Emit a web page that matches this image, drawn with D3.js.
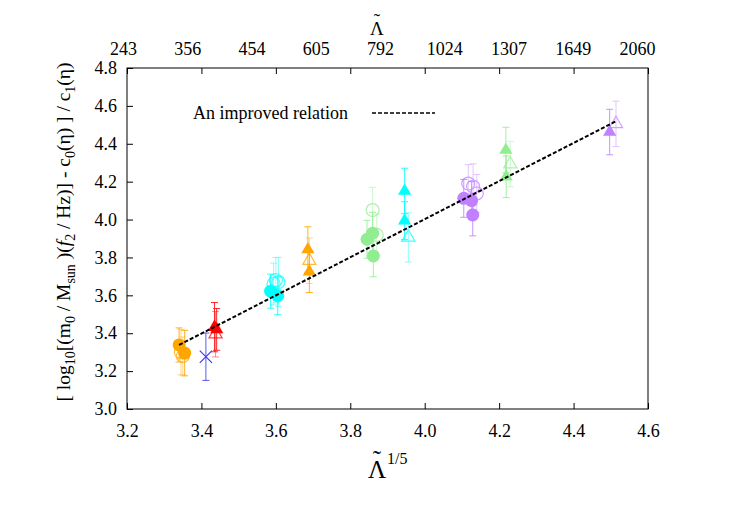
<!DOCTYPE html>
<html>
<head>
<meta charset="utf-8">
<style>
  body { margin: 0; background: #fff; }
  svg text { font-family: "Liberation Serif", "DejaVu Serif", serif; fill: #000; }
  .axis path { display: none; }
  .axis line { stroke: #000; }
</style>
</head>
<body>
<svg width="747" height="528"></svg>
<script src="https://cdn.jsdelivr.net/npm/d3@7"></script>
<script>
// points are [x, y, error]
var orangeCircFilled = [[3.340, 3.338, 0.09], [3.355, 3.295, 0.12]];
var orangeCircOpen   = [[3.350, 3.280, 0.10], [3.345, 3.300, 0.12]];
var blueCross        = [[3.412, 3.276, 0.125]];
var redTriFilled     = [[3.435, 3.432, 0.13], [3.441, 3.420, 0.11]];
var redTriOpen       = [[3.438, 3.395, 0.12]];
var cyanCircFilled   = [[3.586, 3.622, 0.09], [3.605, 3.598, 0.10]];
var cyanCircOpen     = [[3.600, 3.680, 0.12], [3.594, 3.660, 0.11], [3.607, 3.670, 0.13]];
var orangeTriFilled  = [[3.686, 3.842, 0.12], [3.690, 3.725, 0.11]];
var orangeTriOpen    = [[3.690, 3.783, 0.12]];
var greenCircFilled  = [[3.845, 3.896, 0.10], [3.860, 3.928, 0.11], [3.862, 3.808, 0.11]];
var greenCircOpen    = [[3.860, 4.050, 0.12], [3.871, 3.919, 0.11]];
var cyanTriFilled    = [[3.946, 4.151, 0.12], [3.946, 3.994, 0.10]];
var cyanTriOpen      = [[3.956, 3.906, 0.13]];
var purpleCircFilled = [[4.105, 4.112, 0.10], [4.126, 4.100, 0.10], [4.129, 4.024, 0.11]];
var purpleCircOpen   = [[4.117, 4.190, 0.10], [4.130, 4.174, 0.12], [4.140, 4.138, 0.10]];
var greenTriFilled   = [[4.218, 4.367, 0.12], [4.219, 4.226, 0.11]];
var greenTriOpen     = [[4.230, 4.293, 0.12]];
var purpleTriFilled  = [[4.497, 4.462, 0.12]];
var purpleTriOpen    = [[4.514, 4.505, 0.12]];

var fitLine = [[3.340, 3.338], [4.512, 4.517]];

var xTicks = [3.2, 3.4, 3.6, 3.8, 4.0, 4.2, 4.4, 4.6];
var yTicks = [3.0, 3.2, 3.4, 3.6, 3.8, 4.0, 4.2, 4.4, 4.6, 4.8];
var topLabels = ["243", "356", "454", "605", "792", "1024", "1307", "1649", "2060"];

var plotL = 127, plotR = 648, plotT = 68, plotB = 409;

var x = d3.scaleLinear().domain([3.2, 4.6]).range([plotL, plotR]);
var y = d3.scaleLinear().domain([3.0, 4.8]).range([plotB, plotT]);
var xTop = d3.scalePoint().domain(topLabels).range([123, 637]);

var svg = d3.select("svg");

// open markers first, filled ones on top
var groups = [
  {pts: orangeCircOpen, color: "#ffa500", shape: "circle", filled: false},
  {pts: redTriOpen, color: "#ff0000", shape: "tri", filled: false},
  {pts: cyanCircOpen, color: "#00ffff", shape: "circle", filled: false},
  {pts: orangeTriOpen, color: "#ffa500", shape: "tri", filled: false},
  {pts: greenCircOpen, color: "#90ee90", shape: "circle", filled: false},
  {pts: cyanTriOpen, color: "#00ffff", shape: "tri", filled: false},
  {pts: purpleCircOpen, color: "#c080ff", shape: "circle", filled: false},
  {pts: greenTriOpen, color: "#90ee90", shape: "tri", filled: false},
  {pts: purpleTriOpen, color: "#c080ff", shape: "tri", filled: false},
  {pts: blueCross, color: "#3c3cf0", shape: "cross", filled: true},
  {pts: orangeCircFilled, color: "#ffa500", shape: "circle", filled: true},
  {pts: redTriFilled, color: "#ff0000", shape: "tri", filled: true},
  {pts: cyanCircFilled, color: "#00ffff", shape: "circle", filled: true},
  {pts: orangeTriFilled, color: "#ffa500", shape: "tri", filled: true},
  {pts: greenCircFilled, color: "#90ee90", shape: "circle", filled: true},
  {pts: cyanTriFilled, color: "#00ffff", shape: "tri", filled: true},
  {pts: purpleCircFilled, color: "#c080ff", shape: "circle", filled: true},
  {pts: greenTriFilled, color: "#90ee90", shape: "tri", filled: true},
  {pts: purpleTriFilled, color: "#c080ff", shape: "tri", filled: true}
];

// axes
svg.append("g").attr("class", "axis")
  .attr("transform", "translate(0," + plotB + ")")
  .call(d3.axisBottom(x).tickValues(xTicks).tickSize(-6).tickPadding(15).tickFormat(d3.format(".1f")))
  .selectAll("text").style("font-size", "18px");

svg.append("g").attr("class", "axis")
  .attr("transform", "translate(" + plotL + ",0)")
  .call(d3.axisLeft(y).tickValues(yTicks).tickSize(-6).tickPadding(10).tickFormat(d3.format(".1f")))
  .selectAll("text").style("font-size", "18px");

svg.append("g").attr("class", "axis")
  .attr("transform", "translate(0," + plotT + ")")
  .call(d3.axisTop(x).tickValues(xTicks).tickSize(-6).tickFormat(""));

svg.append("g").attr("class", "axis")
  .attr("transform", "translate(0," + plotT + ")")
  .call(d3.axisTop(xTop).tickSize(0).tickPadding(13))
  .selectAll("text").style("font-size", "18px");

svg.append("rect")
  .attr("x", plotL).attr("y", plotT)
  .attr("width", plotR - plotL).attr("height", plotB - plotT)
  .attr("fill", "none").attr("stroke", "#000").attr("stroke-width", 1);

// points with error bars
var triangle = d3.symbol().type(d3.symbolTriangle).size(75);
var cross = d3.symbol().type(d3.symbolX).size(100);

groups.forEach(function(g) {
  var layer = svg.append("g")
    .attr("stroke", g.color)
    .attr("opacity", g.filled ? 1 : 0.75);

  var bars = layer.selectAll("g.bar").data(g.pts).enter().append("g")
    .attr("stroke-opacity", g.filled ? 0.85 : 0.6)
    .attr("stroke-width", 1);
  bars.append("line")
    .attr("x1", function(d) { return x(d[0]); }).attr("x2", function(d) { return x(d[0]); })
    .attr("y1", function(d) { return y(d[1] - d[2]); }).attr("y2", function(d) { return y(d[1] + d[2]); });
  bars.append("line")
    .attr("x1", function(d) { return x(d[0]) - 3.5; }).attr("x2", function(d) { return x(d[0]) + 3.5; })
    .attr("y1", function(d) { return y(d[1] + d[2]); }).attr("y2", function(d) { return y(d[1] + d[2]); });
  bars.append("line")
    .attr("x1", function(d) { return x(d[0]) - 3.5; }).attr("x2", function(d) { return x(d[0]) + 3.5; })
    .attr("y1", function(d) { return y(d[1] - d[2]); }).attr("y2", function(d) { return y(d[1] - d[2]); });

  var marks;
  if (g.shape == "circle") {
    marks = layer.selectAll("circle").data(g.pts).enter().append("circle")
      .attr("cx", function(d) { return x(d[0]); })
      .attr("cy", function(d) { return y(d[1]); })
      .attr("r", 6.5);
  } else {
    marks = layer.selectAll("path.m").data(g.pts).enter().append("path")
      .attr("d", g.shape == "tri" ? triangle : cross)
      .attr("transform", function(d) { return "translate(" + x(d[0]) + "," + y(d[1]) + ")"; });
  }
  if (g.filled && g.shape != "cross") {
    marks.attr("fill", g.color).attr("stroke", "none");
  } else {
    marks.attr("fill", "none").attr("stroke-width", 1.2);
  }
});

// fit line
var line = d3.line()
  .x(function(d) { return x(d[0]); })
  .y(function(d) { return y(d[1]); });

svg.append("path")
  .attr("d", line(fitLine))
  .attr("fill", "none").attr("stroke", "#000")
  .attr("stroke-width", 2).attr("stroke-dasharray", "4,2");

// legend
svg.append("text").attr("x", 193).attr("y", 119)
  .style("font-size", "18px").text("An improved relation");
svg.append("line").attr("x1", 372).attr("x2", 435).attr("y1", 113).attr("y2", 113)
  .attr("stroke", "#000").attr("stroke-width", 1.5).attr("stroke-dasharray", "4,2");

// Lambda with a tilde on top
function lambdaTilde(cx, base, size) {
  svg.append("text").attr("x", cx).attr("y", base).attr("text-anchor", "middle")
    .style("font-size", size + "px").text("\u039B");
  svg.append("text").attr("x", cx).attr("y", base - size * 0.42).attr("text-anchor", "middle")
    .style("font-size", size + "px").text("\u02DC");
}

// axis titles
lambdaTilde(377, 478, 25);
svg.append("text").attr("x", 387).attr("y", 464)
  .style("font-size", "16px").text("1/5");

lambdaTilde(377, 35, 19);

var yt = svg.append("text")
  .attr("transform", "translate(70,232) rotate(-90)")
  .attr("text-anchor", "middle")
  .style("font-size", "19.5px");
var parts = [
  ["[ log", 0], ["10", 1], ["[(m", 0], ["0", 1], [" / M", 0], ["sun", 1], [" )(", 0],
  ["f", 2], ["2", 1], [" / Hz)] - c", 0], ["0", 1], ["(\u03B7) ] / c", 0], ["1", 1], ["(\u03B7)", 0]
];
var shifted = false;
parts.forEach(function(p) {
  var t = yt.append("tspan").text(p[0]);
  if (p[1] == 1) {
    t.style("font-size", "14px");
    if (!shifted) { t.attr("dy", 5); shifted = true; }
  } else {
    if (shifted) { t.attr("dy", -5); shifted = false; }
    if (p[1] == 2) t.style("font-style", "italic");
  }
});
</script>
</body>
</html>
